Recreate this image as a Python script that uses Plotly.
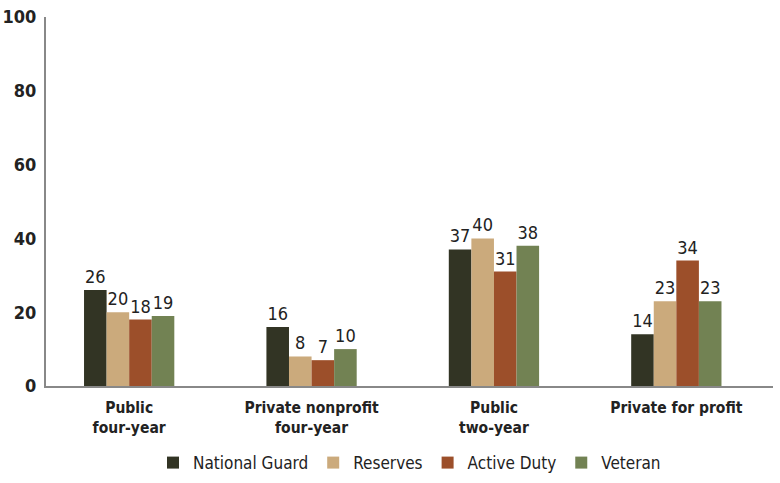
import plotly.graph_objects as go

categories = ["Public<br>four-year", "Private nonprofit<br>four-year", "Public<br>two-year", "Private for profit"]
series_names = ["National Guard", "Reserves", "Active Duty", "Veteran"]
national_guard = [26, 16, 37, 14]
reserves = [20, 8, 40, 23]
active_duty = [18, 7, 31, 34]
veteran = [19, 10, 38, 23]
colors = ["#323424", "#cbaa7c", "#9c4f2a", "#728253"]
y_ticks = [0, 20, 40, 60, 80, 100]

FONT = "Liberation Sans Narrow, DejaVu Sans Condensed, Arial Narrow, sans-serif"

fig = go.Figure()
for name, vals, col in zip(series_names, [national_guard, reserves, active_duty, veteran], colors):
    fig.add_trace(go.Bar(
        name=name, x=list(range(len(categories))), y=vals,
        marker=dict(color=col, line=dict(width=0)),
        text=[str(v) for v in vals], textposition="outside",
        textfont=dict(family=FONT, size=18, color="#222"),
        cliponaxis=False,
    ))

fig.update_layout(
    width=780, height=483,
    margin=dict(l=46, r=7, t=17, b=97, autoexpand=False),
    paper_bgcolor="white", plot_bgcolor="white",
    barmode="group", bargap=0.505, bargroupgap=0,
    font=dict(family=FONT, color="#222"),
    showlegend=True,
    legend=dict(orientation="h", x=0.5, xanchor="center", y=-0.16, yanchor="top",
                font=dict(family=FONT, size=17, color="#222"),
                traceorder="normal", itemsizing="constant"),
    xaxis=dict(
        range=[-0.456, 3.53], automargin=False,
        tickmode="array", tickvals=list(range(len(categories))),
        ticktext=[f"<b>{c}</b>" for c in categories],
        tickfont=dict(family=FONT, size=15.5, color="#222"),
        showline=True, linecolor="#888", linewidth=2,
        ticks="", showgrid=False, zeroline=False,
        ticklabelstandoff=6,
    ),
    yaxis=dict(
        range=[0, 100], automargin=False,
        tickmode="array", tickvals=y_ticks,
        ticktext=[f"<b>{t}</b>" for t in y_ticks],
        tickfont=dict(family=FONT, size=18, color="#222"),
        showline=True, linecolor="#888", linewidth=2,
        ticks="", showgrid=False, zeroline=False,
        ticklabelstandoff=4,
    ),
)

fig.write_html("out.html", config={"displayModeBar": False},
               post_script="document.body.style.margin='0';")
